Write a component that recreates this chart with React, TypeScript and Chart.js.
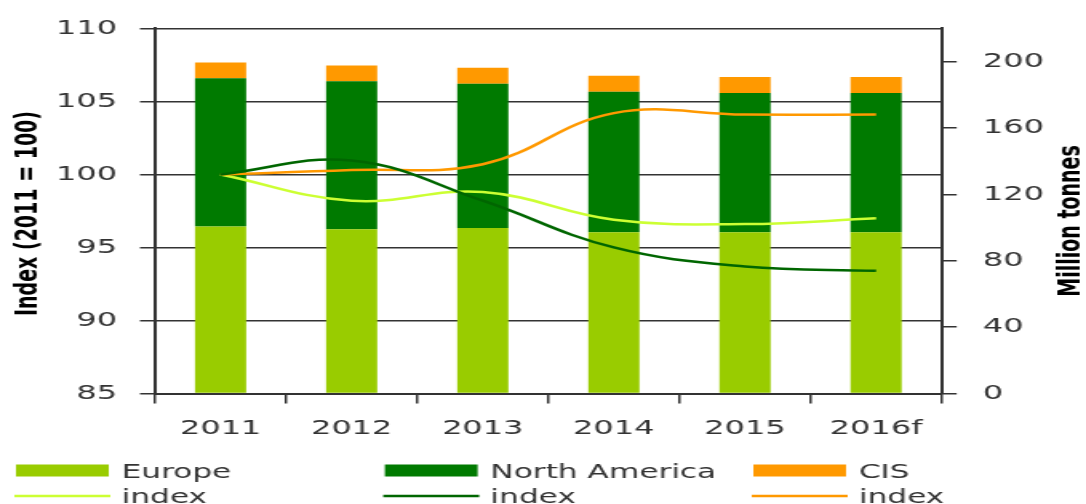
import React, { useEffect, useRef } from "react";
import { Chart, registerables } from "chart.js";

Chart.register(...registerables);

// ---- data ----
const categories = ["2011", "2012", "2013", "2014", "2015", "2016f"];
const europeTonnes = [100.6, 99.0, 99.8, 97.2, 97.2, 97.2];
const northAmericaTonnes = [89.4, 89.2, 86.9, 84.6, 83.8, 83.8];
const cisTonnes = [9.5, 9.5, 9.6, 9.7, 9.7, 9.7];
const europeIndex = [100, 98.2, 98.8, 96.9, 96.6, 97.0];
const northAmericaIndex = [100, 100.95, 98.2, 95.0, 93.7, 93.4];
const cisIndex = [100, 100.3, 100.7, 104.2, 104.1, 104.1];
const rightTickValues = [0, 40, 80, 120, 160, 200];
const barLabels = ["Europe", "North America", "CIS"];
const lineLabel = "index";
const leftTitle = "Index (2011 = 100)";
const rightTitle = "Million tonnes";

// ---- style ----
const LOGICAL_W = 679;
const H = 504;
const STRETCH = 1086 / LOGICAL_W;
const FONT = '"DejaVu Sans", Verdana, sans-serif';
const barColors = ["#99cc00", "#007a00", "#ff9900"];
const lineColors = ["#ccff33", "#006600", "#ff9900"];
const axisColor = "#333333";
const labelColor = "#333333";

const extrasPlugin = {
  id: "extras",
  afterDraw(chart: any) {
    const ctx = chart.ctx as CanvasRenderingContext2D;
    ctx.save();
    ctx.fillStyle = "#000";
    ctx.font = `bold 19px ${FONT}`;
    ctx.textAlign = "center";
    ctx.textBaseline = "middle";
    ctx.save();
    ctx.translate(18.4, 213.5);
    ctx.rotate(-Math.PI / 2);
    ctx.fillText(leftTitle, 0, 0);
    ctx.restore();
    ctx.save();
    ctx.translate(670.4, 221);
    ctx.rotate(-Math.PI / 2);
    ctx.fillText(rightTitle, 0, 0);
    ctx.restore();

    // legend
    const xs = [10, 240.6, 471];
    const w = 58;
    ctx.font = `19.5px ${FONT}`;
    ctx.textAlign = "left";
    ctx.textBaseline = "alphabetic";
    for (let i = 0; i < 3; i++) {
      ctx.fillStyle = barColors[i];
      ctx.fillRect(xs[i], 464.5, w, 12);
      ctx.fillStyle = labelColor;
      ctx.fillText(barLabels[i], xs[i] + w + 8, 478);
      ctx.strokeStyle = lineColors[i];
      ctx.lineWidth = 2.5;
      ctx.beginPath();
      ctx.moveTo(xs[i] - 1, 496);
      ctx.lineTo(xs[i] + w + 1, 496);
      ctx.stroke();
      ctx.fillStyle = labelColor;
      ctx.fillText(lineLabel, xs[i] + w + 8, 503);
    }
    ctx.restore();
  },
};

export default function App() {
  const canvasRef = useRef<HTMLCanvasElement | null>(null);

  useEffect(() => {
    document.body.style.margin = "0";
    document.body.style.overflow = "hidden";
    const canvas = canvasRef.current!;
    const lineDs = (label: string, data: number[], color: string, order: number) => ({
      type: "line" as const,
      label,
      data,
      yAxisID: "y",
      borderColor: color,
      backgroundColor: color,
      borderWidth: 2.5,
      pointRadius: 0,
      tension: 0.4,
      fill: false,
      order,
    });
    const barDs = (label: string, data: number[], color: string) => ({
      type: "bar" as const,
      label,
      data,
      yAxisID: "y2",
      backgroundColor: color,
      borderWidth: 0,
      barPercentage: 0.39,
      categoryPercentage: 1,
      order: 10,
    });
    const chart = new Chart(canvas, {
      data: {
        labels: categories,
        datasets: [
          lineDs("Europe index", europeIndex, lineColors[0], 3),
          lineDs("North America index", northAmericaIndex, lineColors[1], 1),
          lineDs("CIS index", cisIndex, lineColors[2], 2),
          barDs(barLabels[0], europeTonnes, barColors[0]),
          barDs(barLabels[1], northAmericaTonnes, barColors[1]),
          barDs(barLabels[2], cisTonnes, barColors[2]),
        ] as any,
      },
      options: {
        animation: false,
        responsive: true,
        maintainAspectRatio: false,
        layout: { padding: { top: 25, bottom: 0, left: 0, right: 0 } },
        plugins: { legend: { display: false }, tooltip: { enabled: false } },
        scales: {
          x: {
            stacked: true,
            offset: true,
            grid: {
              display: true,
              offset: true,
              drawOnChartArea: false,
              drawTicks: true,
              tickLength: 10,
              color: axisColor,
              lineWidth: 1.5,
            },
            border: { display: true, color: axisColor, width: 2 },
            ticks: { color: labelColor, font: { family: FONT, size: 20 }, padding: 13, maxRotation: 0 },
            afterFit: (s: any) => {
              s.height = H - 393.5;
            },
          },
          y: {
            position: "left",
            stacked: false,
            min: 85,
            max: 110,
            ticks: { stepSize: 5, color: labelColor, font: { family: FONT, size: 20 }, padding: 14.4 },
            grid: { color: axisColor, lineWidth: 1.5, tickLength: 9.4, drawTicks: true },
            border: { display: true, color: axisColor, width: 2 },
            afterFit: (s: any) => {
              s.width = 96.9;
            },
          },
          y2: {
            position: "right",
            stacked: true,
            min: 0,
            max: 220,
            afterBuildTicks: (s: any) => {
              s.ticks = rightTickValues.map((v) => ({ value: v }));
            },
            ticks: { color: labelColor, font: { family: FONT, size: 20 }, padding: 16.4 },
            grid: { drawOnChartArea: false, drawTicks: true, tickLength: 9.4, color: axisColor, lineWidth: 1.5 },
            border: { display: true, color: axisColor, width: 2 },
            afterFit: (s: any) => {
              s.width = LOGICAL_W - 588.75;
            },
          },
        },
      } as any,
      plugins: [extrasPlugin],
    });
    return () => chart.destroy();
  }, []);

  return (
    <div
      style={{
        width: LOGICAL_W,
        height: H,
        transform: `scaleX(${STRETCH})`,
        transformOrigin: "0 0",
        position: "relative",
      }}
    >
      <canvas ref={canvasRef} />
    </div>
  );
}
